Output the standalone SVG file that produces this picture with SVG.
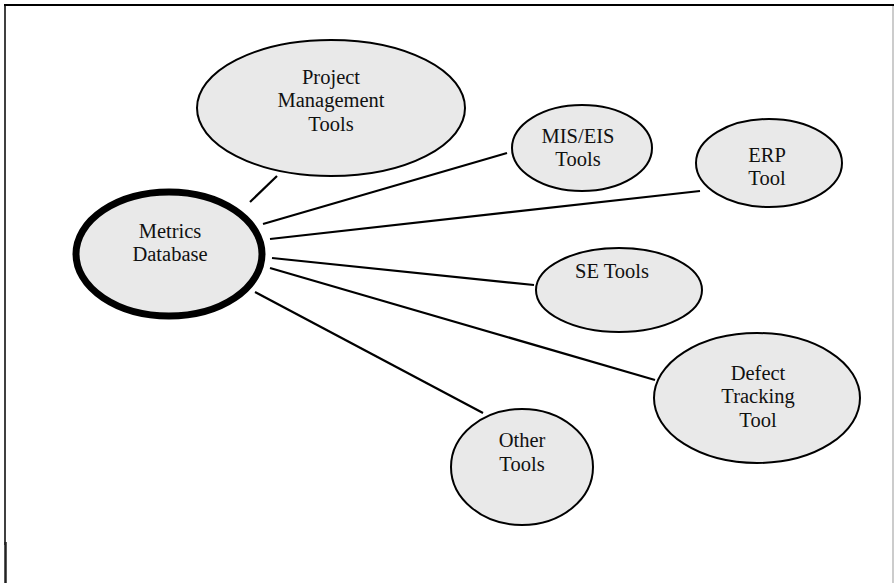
<svg xmlns="http://www.w3.org/2000/svg" width="894" height="583" viewBox="0 0 894 583">
  <style>
    .node { fill: #e9e9e9; stroke: #000; stroke-width: 2; }
    .hub { fill: #e9e9e9; stroke: #000; stroke-width: 7; }
    .link { stroke: #000; stroke-width: 2.2; fill: none; }
    .label { font-family: 'Liberation Serif', 'DejaVu Serif', serif; font-size: 20.5px; fill: #111; text-anchor: middle; }
  </style>
  <rect width="894" height="583" fill="#fff"/>
  <!-- page frame -->
  <g id="frame" fill="none">
    <line x1="4" y1="5" x2="894" y2="5" stroke="#000" stroke-width="2"/>
    <line x1="5" y1="4" x2="5" y2="545" stroke="#000" stroke-width="1.5"/>
    <line x1="5.5" y1="542" x2="5.5" y2="583" stroke="#222" stroke-width="2.5"/>
    <line x1="893" y1="6" x2="893" y2="583" stroke="#aaa" stroke-width="1.2"/>
  </g>
  <!-- spokes from the hub -->
  <g id="connectors">
    <line class="link" x1="250" y1="202" x2="277" y2="176"/>
    <line class="link" x1="263" y1="224" x2="507" y2="153"/>
    <line class="link" x1="270" y1="239" x2="700" y2="191"/>
    <line class="link" x1="272" y1="258" x2="534" y2="285"/>
    <line class="link" x1="270" y1="268" x2="655" y2="380"/>
    <line class="link" x1="255" y1="292" x2="483" y2="413"/>
  </g>
  <g id="metrics-database">
    <ellipse class="hub" cx="169" cy="254" rx="93" ry="62"/>
    <text class="label" x="170" y="238">Metrics</text>
    <text class="label" x="170" y="261">Database</text>
  </g>
  <g id="project-management-tools">
    <ellipse class="node" cx="331" cy="108" rx="134" ry="68"/>
    <text class="label" x="331" y="84">Project</text>
    <text class="label" x="331" y="107">Management</text>
    <text class="label" x="331" y="131">Tools</text>
  </g>
  <g id="mis-eis-tools">
    <ellipse class="node" cx="582" cy="148" rx="70" ry="43"/>
    <text class="label" x="578" y="143">MIS/EIS</text>
    <text class="label" x="578" y="166">Tools</text>
  </g>
  <g id="erp-tool">
    <ellipse class="node" cx="769" cy="163" rx="73" ry="44"/>
    <text class="label" x="767" y="162">ERP</text>
    <text class="label" x="767" y="185">Tool</text>
  </g>
  <g id="se-tools">
    <ellipse class="node" cx="619" cy="290" rx="83" ry="42"/>
    <text class="label" x="612" y="278">SE Tools</text>
  </g>
  <g id="defect-tracking-tool">
    <ellipse class="node" cx="757" cy="398" rx="103" ry="65"/>
    <text class="label" x="758" y="380">Defect</text>
    <text class="label" x="758" y="403">Tracking</text>
    <text class="label" x="758" y="427">Tool</text>
  </g>
  <g id="other-tools">
    <ellipse class="node" cx="522" cy="467" rx="71" ry="58"/>
    <text class="label" x="522" y="447">Other</text>
    <text class="label" x="522" y="471">Tools</text>
  </g>
</svg>
